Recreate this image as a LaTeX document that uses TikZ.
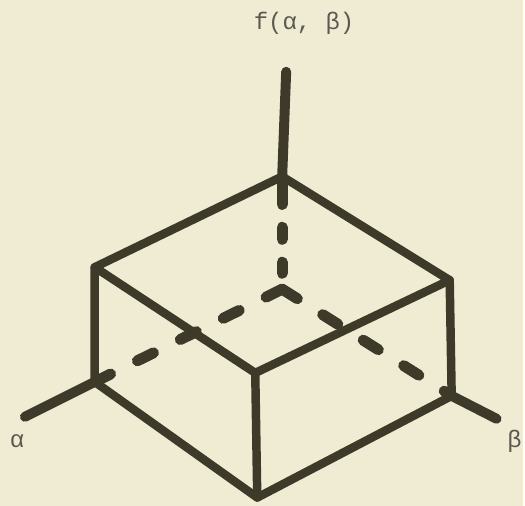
\documentclass[tikz,border=0pt]{standalone}
\usepackage{fontspec}
\setmonofont{Liberation Mono}
\definecolor{papercol}{RGB}{240,236,212}
\definecolor{inkcol}{RGB}{62,58,42}
\definecolor{typecol}{RGB}{92,90,80}

\begin{document}
\begin{tikzpicture}[x=1pt,y=-1pt,line cap=round,line join=round,
  boxline/.style={inkcol,line width=8.5pt},
  axisline/.style={inkcol,line width=10pt},
  hiddenline/.style={inkcol,line width=11pt,dash pattern=on 18pt off 30pt},
  lbl/.style={typecol,font=\ttfamily\fontsize{24}{24}\selectfont}]
  \fill[papercol](0,0) rectangle (525,507);
  \coordinate (zend) at (287,72);
  \coordinate (T) at (283,177);
  \coordinate (L) at (95,268);
  \coordinate (R) at (451,281);
  \coordinate (F) at (256,374);
  \coordinate (O) at (283,290);
  \coordinate (LB) at (95,383);
  \coordinate (RB) at (453,397);
  \coordinate (FB) at (258,499);
  \coordinate (aend) at (25,418);
  \coordinate (bend) at (498,420);
  \draw[hiddenline](O)--(LB);
  \draw[hiddenline](O)--(RB);
  \draw[hiddenline,dash pattern=on 28pt off 23pt on 12pt off 23pt on 11pt off 40pt](T)--(O);
  \draw[axisline](T)--(zend);
  \draw[axisline](LB)--(aend);
  \draw[axisline](RB)--(bend);
  \draw[boxline](L)--(T)--(R)--(F)--cycle;
  \draw[boxline](L)--(LB)--(FB)--(RB)--(R);
  \draw[boxline](F)--(FB);
  \node[lbl] (flbl) at (305,23) {f(α, β)};
  \node[lbl] (albl) at (17,442) {α};
  \node[lbl] (blbl) at (516,443) {β};
\end{tikzpicture}
\end{document}
